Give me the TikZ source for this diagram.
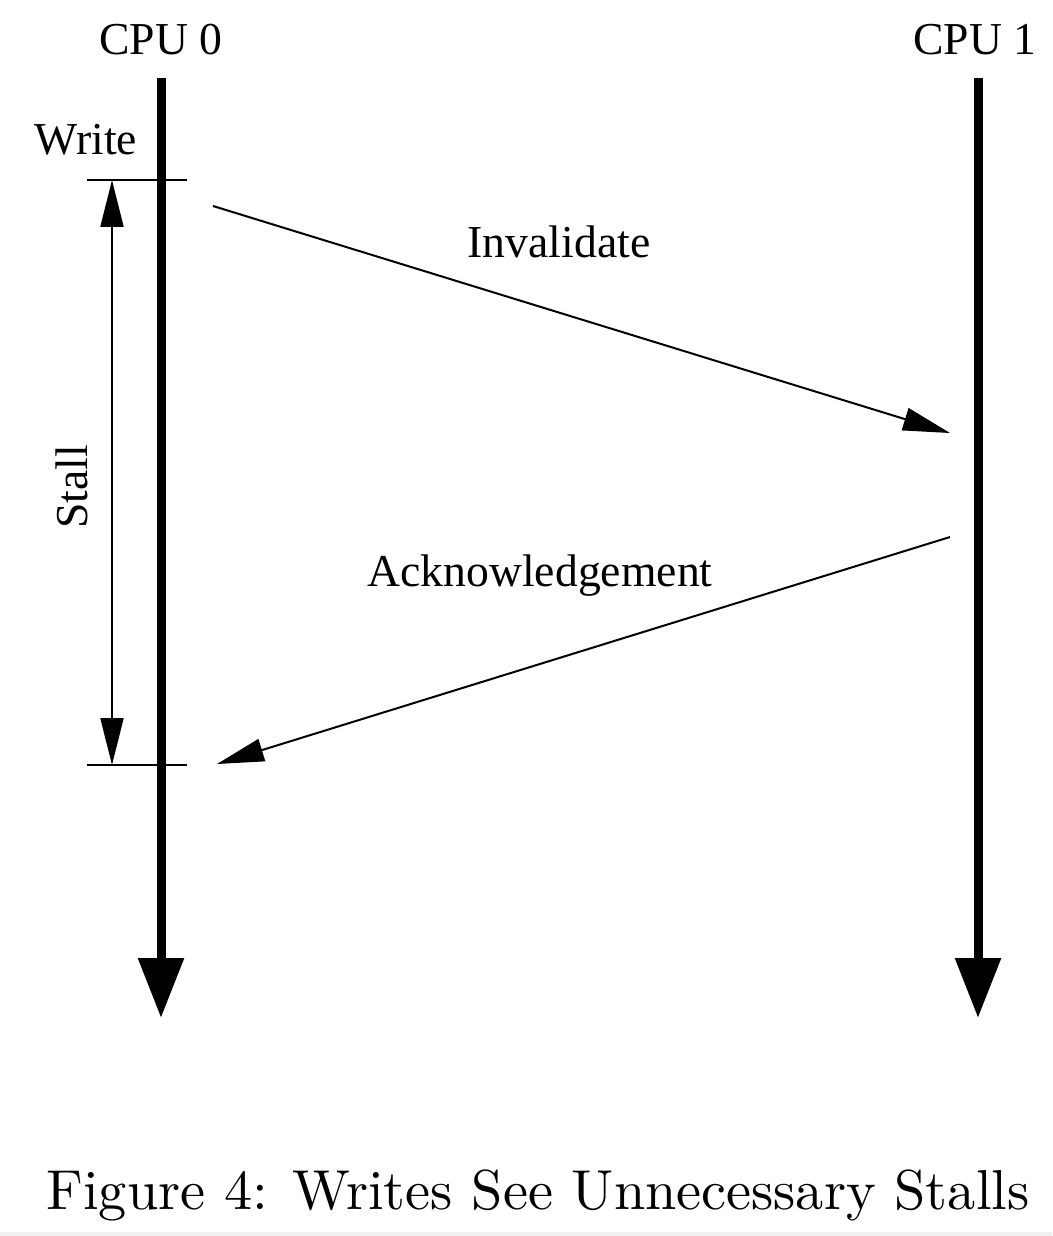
\documentclass[tikz,border=0pt]{standalone}
\usepackage{fontspec}
\newfontfamily\labelfont{Liberation Serif}
\usetikzlibrary{arrows.meta,calc}

\begin{document}
\begin{tikzpicture}[x=0.02cm,y=-0.02cm,font=\labelfont\fontsize{26}{30}\selectfont,
  timeline/.style={line width=0.18cm,-{Triangle[length=1.2cm,width=0.88cm]}},
  msg/.style={line width=0.04cm,-{Triangle[length=0.94cm,width=0.46cm]}},
  tick/.style={line width=0.04cm}]
\useasboundingbox (0,0) rectangle (1052,1236);
\fill[gray!12] (0,1232) rectangle (1052,1236);
% time lines
\coordinate (T0) at (161,78);
\coordinate (B0) at (161,1018);
\coordinate (T1) at (978,78);
\coordinate (B1) at (978,1018);
\draw[timeline] (T0)--(B0);
\draw[timeline] (T1)--(B1);
\node (cpu0) at (161,40) {CPU 0};
\node (cpu1) at (975,40) {CPU 1};
% stall interval
\coordinate (S) at (112,180);
\coordinate (E) at (112,765);
\draw[tick] (87,180)--(187,180);
\draw[tick] (87,765)--(187,765);
\draw[msg,{Triangle[length=0.94cm,width=0.46cm]}-{Triangle[length=0.94cm,width=0.46cm]}] (S)--(E);
\node (write) at (86,140) {Write};
\node[rotate=90] (stall) at (72,487) {Stall};
% messages
\coordinate (inv0) at (213,206);
\coordinate (inv1) at (950,433);
\coordinate (ack0) at (950,537);
\coordinate (ack1) at (217,764);
\draw[msg] (inv0)--(inv1);
\draw[msg] (ack0)--(ack1);
\node (inv) at (559,242) {Invalidate};
\node (ack) at (540,576) {Acknowledgement};
\node (caption) at (538,1195) {\normalfont\resizebox{19.66cm}{!}{\fontsize{10}{12}\selectfont Figure 4: Writes See Unnecessary Stalls}};
\end{tikzpicture}
\end{document}
